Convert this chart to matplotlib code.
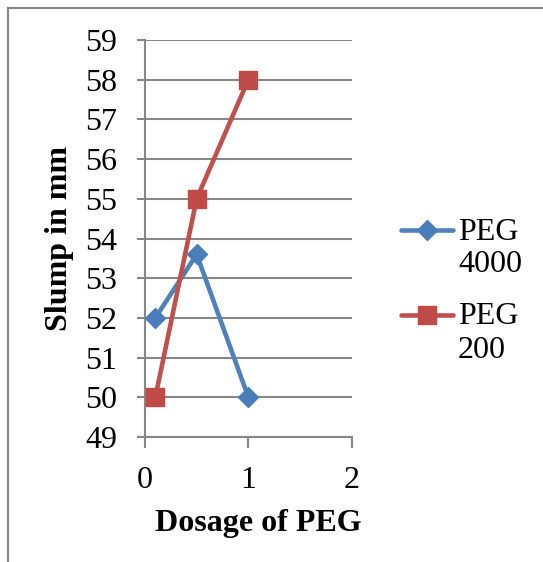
import matplotlib
matplotlib.use("Agg")
import matplotlib.pyplot as plt
from matplotlib.lines import Line2D

plt.rcParams['font.family'] = ['Liberation Serif', 'DejaVu Serif']

# Dosage of PEG vs slump
dosage = [0.1, 0.5, 1.0]
peg4000 = [52, 53.6, 50]
peg200 = [50, 55, 58]
series_names = ["PEG\n4000", "PEG\n200"]
y_ticks = list(range(49, 60))
x_ticks = [0, 1, 2]

W, H = 543, 562
fig = plt.figure(figsize=(W / 100, H / 100), dpi=100)
ax = fig.add_axes([145 / W, 1 - 437 / H, (351.7 - 145) / W, (437 - 40) / H])

grey = '#878787'
blue_line, blue_mk = '#4F81BD', '#4A7EBB'
red_line, red_mk = '#C0504D', '#BE4B48'
lw = 3.3
d_ms, s_ms = 10.5, 13.5

ax.plot(dosage, peg4000, color=blue_line, lw=lw, marker='D', ms=d_ms,
        mfc=blue_mk, mec=blue_mk, solid_capstyle='round', zorder=3)
ax.plot(dosage, peg200, color=red_line, lw=lw, marker='s', ms=s_ms,
        mfc=red_mk, mec=red_mk, solid_capstyle='round', zorder=3)

ax.set_xlim(0, 2)
ax.set_ylim(49, 59)
ax.set_xticks(x_ticks)
ax.set_yticks(y_ticks)
ax.yaxis.grid(True, color=grey, lw=1.5)
ax.set_axisbelow(True)
for s in ['top', 'right']:
    ax.spines[s].set_visible(False)
for s in ['left', 'bottom']:
    ax.spines[s].set_color(grey)
    ax.spines[s].set_linewidth(1.5)
ax.tick_params(axis='y', length=6, width=1.5, color=grey, pad=14, labelsize=23)
ax.tick_params(axis='x', length=8, width=1.5, color=grey, pad=13, labelsize=23)

fig.text(60 / W, 1 - 238 / H, "Slump in mm", rotation=90, ha='center', va='center',
         fontsize=23, fontweight='bold')
fig.text(258 / W, 1 - 523 / H, "Dosage of PEG", ha='center', va='center',
         fontsize=23, fontweight='bold')

# legend
leg = [(series_names[0], blue_line, blue_mk, 'D', d_ms, 230),
       (series_names[1], red_line, red_mk, 's', s_ms, 315)]
for name, lc, mc, mk, ms, yp in leg:
    yf = 1 - yp / H
    fig.add_artist(Line2D([401 / W, 453 / W], [yf, yf], color=lc, lw=lw,
                          solid_capstyle='round', transform=fig.transFigure))
    fig.add_artist(Line2D([427 / W], [yf], marker=mk, ms=ms, mfc=mc, mec=mc,
                          transform=fig.transFigure))
    for i, part in enumerate(name.split("\n")):
        fig.text(458 / W, 1 - (yp + 2 + 33 * i) / H, part, ha='left',
                 va='center', fontsize=23)

# outer frame
fig.add_artist(Line2D([8 / W, 8 / W], [0, 1 - 8 / H], color=grey, lw=1.5,
                      transform=fig.transFigure))
fig.add_artist(Line2D([8 / W, 1], [1 - 8 / H, 1 - 8 / H], color=grey, lw=1.5,
                      transform=fig.transFigure))

fig.savefig("out.png", dpi=100)
